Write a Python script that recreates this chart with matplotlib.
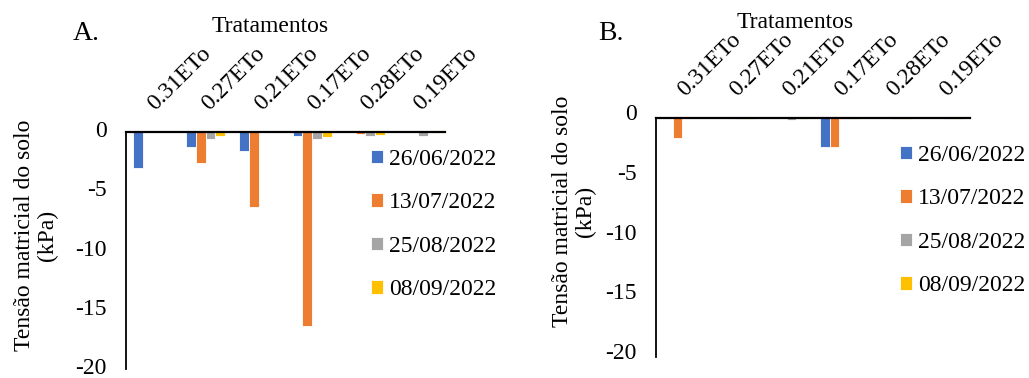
import matplotlib
matplotlib.use("Agg")
import matplotlib.pyplot as plt
import matplotlib.transforms as mtransforms
import numpy as np

plt.rcParams['font.family'] = ['Liberation Serif', 'DejaVu Serif']

treatments = ['0.31ETo', '0.27ETo', '0.21ETo', '0.17ETo', '0.28ETo', '0.19ETo']
dates = ['26/06/2022', '13/07/2022', '25/08/2022', '08/09/2022']
colors = ['#4472C4', '#ED7D31', '#A5A5A5', '#FFC000']

# Panel A: soil matric tension (kPa) per treatment and date
a_jun26 = [-3.0, -1.3, -1.6, -0.3, 0.0, 0.0]
a_jul13 = [0.0, -2.6, -6.3, -16.35, -0.15, 0.0]
a_aug25 = [0.0, -0.55, 0.0, -0.55, -0.35, -0.35]
a_sep08 = [0.0, -0.3, 0.0, -0.4, -0.25, -0.05]

# Panel B
b_jun26 = [0.0, 0.0, 0.0, -2.4, 0.0, 0.0]
b_jul13 = [-1.65, 0.0, 0.0, -2.4, 0.0, 0.0]
b_aug25 = [0.0, -0.05, -0.15, -0.05, -0.1, -0.05]
b_sep08 = [0.0, -0.05, -0.05, -0.05, -0.05, -0.05]

yticks = [0, -5, -10, -15, -20]

W, H = 1029, 378
fig = plt.figure(figsize=(W / 100, H / 100), dpi=100)
FS = 17


def px(x0, y_top, x1, y_bot):
    return [x0 / W, 1 - y_bot / H, (x1 - x0) / W, (y_bot - y_top) / H]


def draw_panel(rect, series, letter, letter_xy, title_xy, ylab_xy, legend_xy, label_shift):
    ax = fig.add_axes(rect)
    x = np.arange(len(treatments))
    bw = 0.183
    for k, (vals, col, lab) in enumerate(zip(series, colors, dates)):
        ax.bar(x + (k - 1.5) * bw, vals, width=bw, color=col, edgecolor='white',
               linewidth=0.6, label=lab, zorder=2)
    ax.set_xlim(-0.5, len(treatments) - 0.5)
    ax.set_ylim(-20, 0)
    ax.set_yticks(yticks)
    ax.set_yticklabels([str(v) for v in yticks], fontsize=FS)
    ax.tick_params(axis='y', length=0, pad=14)
    ax.set_xticks([])
    for s in ['right', 'bottom']:
        ax.spines[s].set_visible(False)
    ax.spines['left'].set_linewidth(1.3)
    ax.spines['top'].set_linewidth(1.6)
    ax.spines['top'].set_zorder(3)
    if label_shift:
        off = mtransforms.ScaledTranslation(0, label_shift / 100, fig.dpi_scale_trans)
        for t in ax.get_yticklabels():
            t.set_transform(t.get_transform() + off)

    # rotated category labels above the zero line
    trans = ax.get_xaxis_transform() + mtransforms.ScaledTranslation(
        3 / 100, 21 / 100, fig.dpi_scale_trans)
    for i, name in enumerate(treatments):
        ax.text(i, 1.0, name, transform=trans, rotation=45, rotation_mode='anchor',
                ha='left', va='baseline', fontsize=FS, clip_on=False)

    fig.text(letter_xy[0] / W, 1 - letter_xy[1] / H, letter, fontsize=FS + 3,
             ha='center', va='center')
    fig.text(title_xy[0] / W, 1 - title_xy[1] / H, 'Tratamentos', fontsize=FS,
             ha='center', va='center')
    fig.text(ylab_xy[0] / W, 1 - ylab_xy[1] / H, 'Tensão matricial do solo\n(kPa)',
             fontsize=FS, rotation=90, ha='center', va='center',
             multialignment='center', linespacing=1.15)

    ax.legend(loc='upper left', bbox_to_anchor=(legend_xy[0] / W, 1 - legend_xy[1] / H),
              bbox_transform=fig.transFigure, frameon=False, fontsize=FS,
              handlelength=0.5, handleheight=0.5, handletextpad=0.25,
              labelspacing=0.95, borderpad=0, borderaxespad=0)
    return ax


draw_panel(px(126, 132, 445, 369), [a_jun26, a_jul13, a_aug25, a_sep08],
           'A.', (86, 34), (270, 26), (36, 235), (371, 149), 3)
draw_panel(px(656, 118, 970, 357), [b_jun26, b_jul13, b_aug25, b_sep08],
           'B.', (611, 33), (795, 22), (574, 211), (900, 145), 6)

fig.savefig('out.png', dpi=100)
